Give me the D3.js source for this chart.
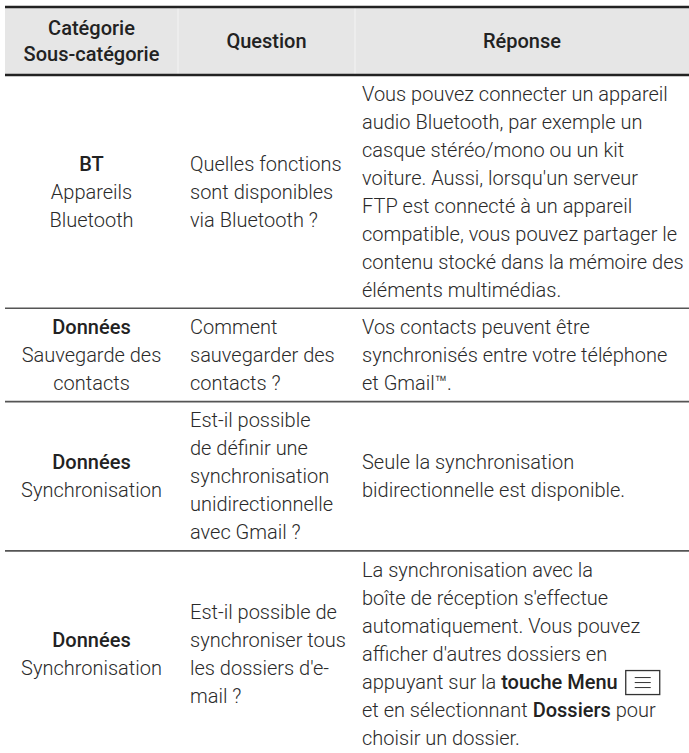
<!DOCTYPE html>
<html>
<head>
<meta charset="utf-8">
<script src="https://cdn.jsdelivr.net/npm/d3@7/dist/d3.min.js"></script>
<style>
  html, body { margin: 0; padding: 0; background: #fff; }
  svg { display: block; }
</style>
</head>
<body>
<svg id="chart" width="689" height="753"></svg>
<script>
// ---- data ----
const headers = [["Catégorie", "Sous-catégorie"], ["Question"], ["Réponse"]];
const categories = ["BT", "Données", "Données", "Données"];
const subcategories = [
  ["Appareils", "Bluetooth"],
  ["Sauvegarde des", "contacts"],
  ["Synchronisation"],
  ["Synchronisation"]
];
const questions = [
  ["Quelles fonctions", "sont disponibles", "via Bluetooth ?"],
  ["Comment", "sauvegarder des", "contacts ?"],
  ["Est-il possible", "de définir une", "synchronisation", "unidirectionnelle", "avec Gmail ?"],
  ["Est-il possible de", "synchroniser tous", "les dossiers d'e-", "mail ?"]
];
const answers = [
  ["Vous pouvez connecter un appareil", "audio Bluetooth, par exemple un", "casque stéréo/mono ou un kit",
   "voiture. Aussi, lorsqu'un serveur", "FTP est connecté à un appareil", "compatible, vous pouvez partager le",
   "contenu stocké dans la mémoire des", "éléments multimédias."],
  ["Vos contacts peuvent être", "synchronisés entre votre téléphone", "et Gmail™."],
  ["Seule la synchronisation", "bidirectionnelle est disponible."],
  ["La synchronisation avec la", "boîte de réception s'effectue", "automatiquement. Vous pouvez",
   "afficher d'autres dossiers en", "appuyant sur la **touche Menu** [menu]", "et en sélectionnant **Dossiers** pour",
   "choisir un dossier."]
];

// ---- layout ----
const W = 689, H = 753;
const left = 5, right = 689;
const headTop = 7, headBottom = 75;
const lineH = 28, pad = 4.65, fs = 20;
const colEdges = [left, 178, 355, right];
const font = "Roboto, 'Liberation Sans', Arial, sans-serif";
const bodyWeight = 300, boldWeight = 500;

const svg = d3.select("#chart");

// row heights derived from line counts
const rows = categories.map((c, i) => {
  const n1 = 1 + subcategories[i].length;
  const n = Math.max(n1, questions[i].length, answers[i].length);
  return { i, n, h: n * lineH + 2 * pad };
});
let acc = headBottom;
rows.forEach(r => { r.y0 = acc; acc += r.h; r.y1 = acc; });

const x = d3.scaleOrdinal().domain([0, 1, 2]).range([
  (colEdges[0] + colEdges[1]) / 2, colEdges[1] + 12, colEdges[2] + 7
]);

// header background
svg.append("rect").attr("x", left).attr("y", headTop).attr("width", right - left)
  .attr("height", headBottom - headTop).attr("fill", "#e6e6e6");
svg.selectAll("line.hsep").data([colEdges[1], colEdges[2]]).join("line")
  .attr("x1", d => d).attr("x2", d => d).attr("y1", headTop).attr("y2", headBottom)
  .attr("stroke", "#fff").attr("stroke-width", 1).attr("opacity", 0.6);
[headTop, headBottom].forEach(yy => {
  svg.append("line").attr("x1", left).attr("x2", right).attr("y1", yy).attr("y2", yy)
    .attr("stroke", "#222").attr("stroke-width", 2.6);
});

// header texts
const headerCenters = [(colEdges[0] + colEdges[1]) / 2, (colEdges[1] + colEdges[2]) / 2, (colEdges[2] + colEdges[3]) / 2];
headers.forEach((lines, ci) => {
  const mid = (headTop + headBottom) / 2;
  const start = mid - (lines.length - 1) * 26 / 2;
  lines.forEach((t, li) => {
    svg.append("text").attr("x", headerCenters[ci]).attr("y", start + li * 26 + fs * 0.36)
      .attr("text-anchor", "middle").attr("font-family", font).attr("font-size", fs)
      .attr("font-weight", boldWeight).attr("fill", "#222").text(t);
  });
});

// row separators
svg.selectAll("line.rsep").data(rows.slice(0, rows.length - 1)).join("line")
  .attr("x1", left).attr("x2", right).attr("y1", d => d.y1).attr("y2", d => d.y1)
  .attr("stroke", "#555").attr("stroke-width", 1.6);

function drawLines(lines, xPos, anchor, rowObj, styleFirstBold) {
  const mid = (rowObj.y0 + rowObj.y1) / 2;
  const start = mid - (lines.length - 1) * lineH / 2;
  lines.forEach((t, li) => {
    const ty = start + li * lineH + fs * 0.36;
    const txt = svg.append("text").attr("x", xPos).attr("y", ty)
      .attr("text-anchor", anchor).attr("font-family", font).attr("font-size", fs)
      .attr("font-weight", bodyWeight).attr("fill", "#2a2a2a");
    if (styleFirstBold && li === 0) {
      txt.attr("font-weight", boldWeight).attr("fill", "#222").text(t);
      return;
    }
    let hasMenu = false;
    let s = t;
    if (s.includes("[menu]")) { hasMenu = true; s = s.replace(" [menu]", ""); }
    const parts = s.split("**");
    parts.forEach((p, pi) => {
      if (!p) return;
      const ts = txt.append("tspan").text(p);
      if (pi % 2 === 1) ts.attr("font-weight", boldWeight).attr("fill", "#222");
    });
    if (hasMenu) {
      const bb = txt.node().getBBox();
      const bx = bb.x + bb.width + 8;
      const bh = 24, bw = 34;
      const by = start + li * lineH - bh / 2 + 1;
      svg.append("rect").attr("x", bx).attr("y", by).attr("width", bw).attr("height", bh)
        .attr("fill", "#fff").attr("stroke", "#333").attr("stroke-width", 1.3);
      [-5, 0, 5].forEach(dy => {
        svg.append("line").attr("x1", bx + 9).attr("x2", bx + bw - 9)
          .attr("y1", by + bh / 2 + dy).attr("y2", by + bh / 2 + dy)
          .attr("stroke", "#333").attr("stroke-width", 1);
      });
    }
  });
}

rows.forEach(r => {
  drawLines([categories[r.i], ...subcategories[r.i]], x(0), "middle", r, true);
  drawLines(questions[r.i], x(1), "start", r, false);
  drawLines(answers[r.i], x(2), "start", r, false);
});
</script>
</body>
</html>
